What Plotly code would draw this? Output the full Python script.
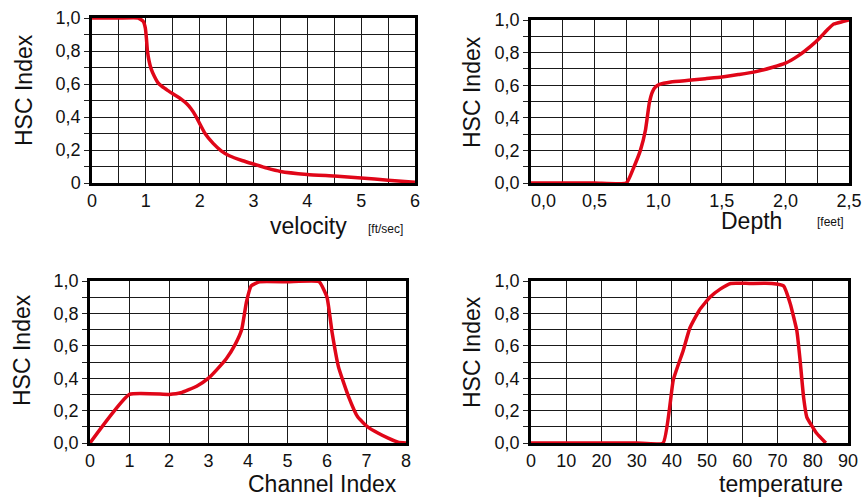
import plotly.graph_objects as go

# ---------------- data ----------------
velocity_x = [0, 0.5, 0.86, 0.95, 0.99, 1.01, 1.03, 1.06, 1.1, 1.16, 1.22, 1.3, 1.41, 1.53, 1.65, 1.76,
              1.84, 1.92, 2.0, 2.1, 2.25, 2.4, 2.55, 2.8, 3.0, 3.25, 3.5, 4.0, 4.5, 5.0, 5.5, 6.0]
velocity_y = [1.0, 1.0, 1.0, 0.98, 0.94, 0.88, 0.80, 0.74, 0.69, 0.645, 0.61, 0.585, 0.56, 0.535, 0.51, 0.48,
              0.45, 0.41, 0.36, 0.30, 0.24, 0.195, 0.165, 0.135, 0.115, 0.09, 0.07, 0.052, 0.042, 0.03, 0.017, 0.004]

depth_x = [0, 0.5, 0.75, 0.81, 0.86, 0.90, 0.93, 0.955, 0.98, 1.01, 1.1, 1.24, 1.37, 1.5, 1.63, 1.75, 1.9,
           2.0, 2.1, 2.2, 2.27, 2.33, 2.38, 2.45, 2.5]
depth_y = [0, 0, 0, 0.10, 0.20, 0.325, 0.49, 0.56, 0.59, 0.605, 0.62, 0.63, 0.64, 0.65, 0.665, 0.68, 0.71,
           0.735, 0.78, 0.84, 0.89, 0.94, 0.975, 0.99, 1.0]

channel_x = [0, 1.0, 2.0, 2.3, 2.7, 3.0, 3.2, 3.45, 3.68, 3.84, 3.96, 4.08, 4.29, 5.0, 5.8, 6.0, 6.13, 6.29,
             6.54, 6.78, 7.03, 7.3, 7.55, 7.8, 8.0]
channel_y = [0, 0.30, 0.30, 0.31, 0.35, 0.40, 0.45, 0.52, 0.61, 0.70, 0.87, 0.97, 0.995, 0.995, 0.995, 0.90,
             0.68, 0.47, 0.29, 0.16, 0.10, 0.06, 0.03, 0.005, 0.0]

temperature_x = [0, 10, 20, 30, 37.5, 40.4, 43.2, 45.1, 47.8, 50.8, 53.7, 56.7, 62, 68.4, 71.7, 73.6, 75.5,
                 76.4, 77.4, 78.3, 81.1, 83.7]
temperature_y = [0, 0, 0, 0, 0, 0.39, 0.57, 0.71, 0.82, 0.90, 0.95, 0.985, 0.985, 0.985, 0.97, 0.86, 0.69,
                 0.51, 0.28, 0.16, 0.06, 0.0]

y_tickvals = [0, 0.2, 0.4, 0.6, 0.8, 1.0]
y_ticktext_first = ["0", "0,2", "0,4", "0,6", "0,8", "1,0"]
y_ticktext = ["0,0", "0,2", "0,4", "0,6", "0,8", "1,0"]
depth_tickvals = [0, 0.5, 1.0, 1.5, 2.0, 2.5]
depth_ticktext = ["\u00a0\u00a0\u00a0\u00a0\u00a00,0", "0,5", "1,0", "1,5", "2,0", "2,5"]

# ---------------- styling ----------------
W, H = 862, 500
FONT = "Arial, Liberation Sans, Helvetica, sans-serif"
RED = "rgb(224,6,24)"
GRID = "#1a1a1a"

def px_x(p):
    return p / W

def px_y(p):
    return 1 - p / H

fig = go.Figure()

panels = [
    (velocity_x, velocity_y, "x", "y"),
    (depth_x, depth_y, "x2", "y2"),
    (channel_x, channel_y, "x3", "y3"),
    (temperature_x, temperature_y, "x4", "y4"),
]
for xs, ys, xa, ya in panels:
    fig.add_trace(go.Scatter(x=xs, y=ys, xaxis=xa, yaxis=ya, mode="lines",
                             line=dict(color=RED, width=3.5, shape="spline", smoothing=0.4),
                             cliponaxis=False, showlegend=False, hoverinfo="skip"))

def xaxis(domain, rng, dtick, minor, anchor, tickvals=None, ticktext=None):
    d = dict(domain=domain, range=rng, dtick=dtick, tick0=0, anchor=anchor,
             showgrid=True, gridcolor=GRID, gridwidth=1,
             minor=dict(dtick=minor, tick0=0, showgrid=True, gridcolor=GRID, gridwidth=1),
             showline=True, linecolor="black", linewidth=2.5, mirror=True,
             zeroline=False, ticks="", layer="below traces", automargin=False,
             tickfont=dict(family=FONT, size=18, color="#111"),
             ticklabelstandoff=0, fixedrange=True)
    if tickvals is not None:
        d["tickvals"] = tickvals
        d["ticktext"] = ticktext
    return d

def yaxis(domain, anchor, texts):
    return dict(domain=domain, range=[0, 1], tickvals=y_tickvals, ticktext=texts, anchor=anchor,
                showgrid=True, gridcolor=GRID, gridwidth=1,
                minor=dict(dtick=0.1, tick0=0, showgrid=True, gridcolor=GRID, gridwidth=1,
                           ticks="outside", ticklen=5, tickcolor="#222", tickwidth=1),
                showline=True, linecolor="black", linewidth=2.5, mirror=True,
                zeroline=False, ticks="outside", ticklen=5, tickcolor="#222", tickwidth=1,
                layer="below traces", automargin=False,
                tickfont=dict(family=FONT, size=18, color="#111"), fixedrange=True)

fig.update_layout(
    width=W, height=H,
    margin=dict(l=0, r=0, t=0, b=0, pad=0, autoexpand=False),
    paper_bgcolor="white", plot_bgcolor="white",
    separators=",.",
    xaxis=xaxis([px_x(92), px_x(415)], [0, 6], 1, 0.5, "y"),
    yaxis=yaxis([px_y(183), px_y(18)], "x", y_ticktext_first),
    xaxis2=xaxis([px_x(531), px_x(849)], [0, 2.5], 0.5, 0.25, "y2", depth_tickvals, depth_ticktext),
    yaxis2=yaxis([px_y(183), px_y(20)], "x2", y_ticktext),
    xaxis3=xaxis([px_x(90), px_x(406)], [0, 8], 1, 1, "y3"),
    yaxis3=yaxis([px_y(443), px_y(281)], "x3", y_ticktext),
    xaxis4=xaxis([px_x(531), px_x(848)], [0, 90], 10, 10, "y4"),
    yaxis4=yaxis([px_y(443), px_y(281)], "x4", y_ticktext),
)

def label(text, x, y, size, angle=0):
    fig.add_annotation(text=text, xref="paper", yref="paper", x=px_x(x), y=px_y(y),
                       xanchor="center", yanchor="middle", showarrow=False, textangle=angle,
                       font=dict(family=FONT, size=size, color="#111"))

# y-axis titles
for (x, y) in [(24, 90), (472, 92), (22, 350), (472, 352)]:
    label("HSC Index", x, y, 23, -90)

# x-axis titles
label("velocity", 308, 226, 23)
label("[ft/sec]", 385, 229, 12)
label("Depth", 751, 221, 23)
label("[feet]", 830, 222, 12)
label("Channel Index", 322, 484, 23)
label("temperature", 781, 484, 23)

fig.write_html("out.html", config={"displayModeBar": False},
               post_script="document.body.style.margin='0';document.body.style.overflow='hidden';")
